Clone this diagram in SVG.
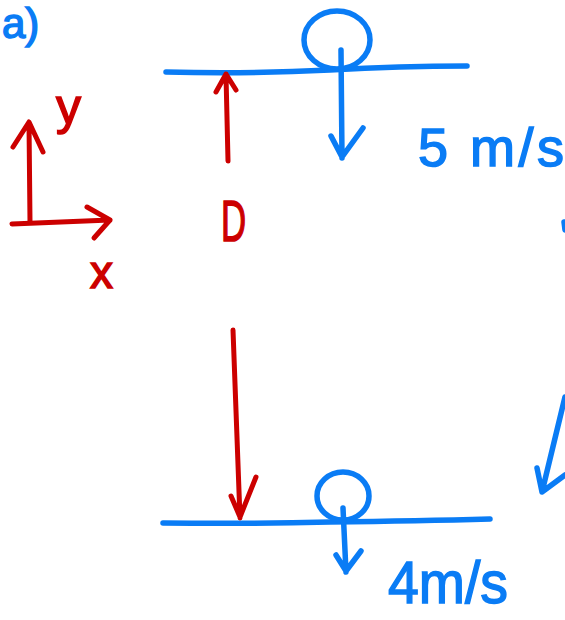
<svg xmlns="http://www.w3.org/2000/svg" width="565" height="620" viewBox="0 0 565 620">
<style>
.b{stroke:#0a7cf5;fill:none;stroke-width:5.5;stroke-linecap:round;stroke-linejoin:round}
.r{stroke:#cc0000;fill:none;stroke-width:5;stroke-linecap:round;stroke-linejoin:round}
.tb{fill:#0a7cf5;stroke:#0a7cf5;stroke-width:1.5;font-family:"Liberation Sans",Arial,sans-serif}
.tr{fill:#cc0000;stroke:#cc0000;stroke-width:1.5;font-family:"Liberation Sans",Arial,sans-serif}
</style>
<rect width="565" height="620" fill="#fff"/>
<g id="part-label"><text class="tb" x="2" y="38" font-size="42">a)</text></g>
<g id="axes">
<path class="r" d="M30,222 L29,123 M13,147 L29,122 L43,152"/>
<path class="r" d="M12,224 L110,220 M87,207 L110,220 L94,238"/>
<text class="tr" x="56" y="124" font-size="50">y</text>
<text class="tr" x="90" y="288" font-size="46">x</text>
</g>
<g id="top-surface">
<path class="b" d="M166,72 Q250,74 330,70 Q400,66 467,66"/>
<ellipse class="b" cx="337" cy="40" rx="33" ry="29"/>
</g>
<g id="bottom-surface">
<path class="b" d="M163,523 Q250,524 330,522 Q420,521 490,519"/>
<ellipse class="b" cx="343" cy="496" rx="26" ry="24"/>
</g>
<g id="distance-label"><text class="tr" transform="translate(221,241) scale(0.6,1)" font-size="58">D</text></g>
<g id="connectors">
<path class="r" d="M228,161 L226,75 M216,92 L226,74 L236,90"/>
<path class="r" d="M233,330 L240,518 M231,496 L240,517 L256,477"/>
<path class="b" d="M341,50 L342,158 M331,136 L342,157 L363,128"/>
<path class="b" d="M343,508 L346,572 M336,555 L346,571 L361,551"/>
<path class="b" d="M565,397 L542,492 M537,468 L542,492 L565,475"/>
<path class="b" d="M564,222 L565,230"/>
</g>
<g id="speed-labels">
<text class="tb" x="418" y="166" font-size="54" textLength="146" lengthAdjust="spacing">5 m/s</text>
<text class="tb" x="388" y="603" font-size="60" textLength="120" lengthAdjust="spacingAndGlyphs">4m/s</text>
</g>
</svg>
